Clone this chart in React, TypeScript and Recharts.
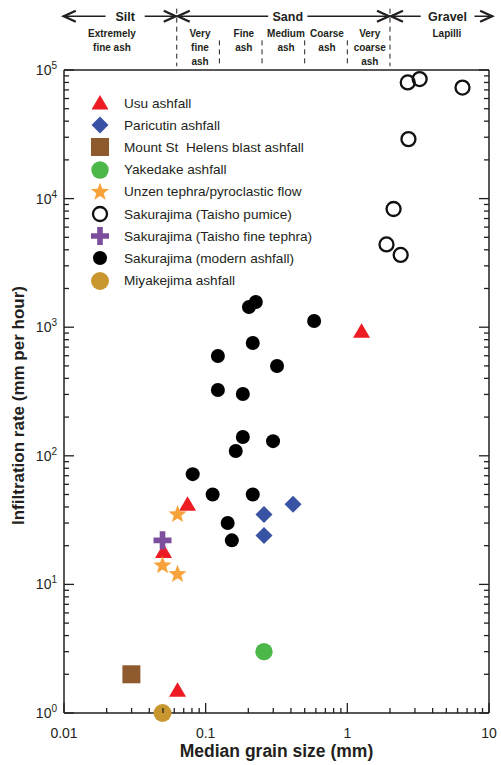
import React from 'react'
import {
  ScatterChart,
  Scatter,
  XAxis,
  YAxis,
  Legend,
  ReferenceLine,
  ReferenceDot,
} from 'recharts'

const FONT = '"Liberation Sans", Arial, Helvetica, sans-serif'
const INK = '#231f20'

// values: x = median grain size (mm), y = infiltration rate (mm/h)
const usu = [
  { x: 1.26, y: 930 },
  { x: 0.0745, y: 42 },
  { x: 0.0504, y: 18 },
  { x: 0.0633, y: 1.5 },
]
const paricutin = [
  { x: 0.258, y: 35 },
  { x: 0.414, y: 42 },
  { x: 0.258, y: 24 },
]
const stHelens = [{ x: 0.0299, y: 2.0 }]
const yakedake = [{ x: 0.258, y: 3.0 }]
const unzen = [
  { x: 0.0633, y: 35 },
  { x: 0.0496, y: 14 },
  { x: 0.0633, y: 12 },
]
const taishoPumice = [
  { x: 2.67, y: 80000 },
  { x: 3.24, y: 85000 },
  { x: 6.5, y: 73000 },
  { x: 2.7, y: 29000 },
  { x: 2.12, y: 8300 },
  { x: 1.89, y: 4400 },
  { x: 2.38, y: 3650 },
]
const taishoFine = [{ x: 0.0496, y: 22 }]
const modern = [
  { x: 0.226, y: 1570 },
  { x: 0.202, y: 1435 },
  { x: 0.583, y: 1117 },
  { x: 0.215, y: 754 },
  { x: 0.122, y: 597 },
  { x: 0.319, y: 499 },
  { x: 0.122, y: 325 },
  { x: 0.183, y: 302 },
  { x: 0.183, y: 140 },
  { x: 0.299, y: 130 },
  { x: 0.163, y: 109 },
  { x: 0.081, y: 72 },
  { x: 0.112, y: 50 },
  { x: 0.215, y: 50 },
  { x: 0.143, y: 30 },
  { x: 0.153, y: 22 },
]
const miyakejima = [{ x: 0.0496, y: 1.0 }]

const xTicks = [
  0.01, 0.02, 0.03, 0.04, 0.05, 0.06, 0.07, 0.08, 0.09,
  0.1, 0.2, 0.3, 0.4, 0.5, 0.6, 0.7, 0.8, 0.9,
  1, 2, 3, 4, 5, 6, 7, 8, 9, 10,
]
const yTicks = [
  1, 2, 3, 4, 5, 6, 7, 8, 9,
  10, 20, 30, 40, 50, 60, 70, 80, 90,
  100, 200, 300, 400, 500, 600, 700, 800, 900,
  1000, 2000, 3000, 4000, 5000, 6000, 7000, 8000, 9000,
  10000, 20000, 30000, 40000, 50000, 60000, 70000, 80000, 90000,
  100000,
]

// grain size classes shown above the plot
const mainBounds = [0.0625, 2]
const subBounds = [0.125, 0.25, 0.5, 1]
const classes = [
  { name: 'Silt', from: 0.0098, to: 0.0625, at: 0.027 },
  { name: 'Sand', from: 0.0625, to: 2, at: 0.38 },
  { name: 'Gravel', from: 2, to: 10.7, at: 5.1 },
]
const ashTypes = [
  { lines: ['Extremely', 'fine ash'], at: 0.0218 },
  { lines: ['Very', 'fine', 'ash'], at: 0.0912 },
  { lines: ['Fine', 'ash'], at: 0.186 },
  { lines: ['Medium', 'ash'], at: 0.369 },
  { lines: ['Coarse', 'ash'], at: 0.718 },
  { lines: ['Very', 'coarse', 'ash'], at: 1.44 },
  { lines: ['Lapilli'], at: 5.05 },
]
// y positions (in data units, above the 1e5 top) for the header rows
const ARROW_Y = 2.62e5
const DASH_TOP = 3.0e5
const SUB_DASH_TOP = 1.7e5
const DASH_BOTTOM = 1.07e5
const LABEL_Y = 1.8e5

const series = [
  { name: 'Usu ashfall', data: usu, kind: 'triangle', color: '#ed1c24' },
  { name: 'Paricutin ashfall', data: paricutin, kind: 'diamond', color: '#3953a4' },
  { name: 'Mount St  Helens blast ashfall', data: stHelens, kind: 'square', color: '#8f5b2e' },
  { name: 'Yakedake ashfall', data: yakedake, kind: 'dot', color: '#4cb849', r: 8.7 },
  { name: 'Unzen tephra/pyroclastic flow', data: unzen, kind: 'star', color: '#f7a23b' },
  { name: 'Sakurajima (Taisho pumice)', data: taishoPumice, kind: 'ring', color: '#111' },
  { name: 'Sakurajima (Taisho fine tephra)', data: taishoFine, kind: 'plus', color: '#7e4e9e' },
  { name: 'Sakurajima (modern ashfall)', data: modern, kind: 'dot', color: '#000', r: 7 },
  { name: 'Miyakejima ashfall', data: miyakejima, kind: 'dot', color: '#c9972f', r: 9 },
]

function starPoints(cx: number, cy: number, ro: number, ri: number) {
  const pts: string[] = []
  for (let i = 0; i < 10; i++) {
    const r = i % 2 === 0 ? ro : ri
    const a = -Math.PI / 2 + (i * Math.PI) / 5
    pts.push(`${cx + r * Math.cos(a)},${cy + r * Math.sin(a)}`)
  }
  return pts.join(' ')
}

function Marker({ kind, color, r, cx, cy }: any) {
  switch (kind) {
    case 'triangle':
      return <polygon points={`${cx},${cy - 8} ${cx - 8.5},${cy + 6.5} ${cx + 8.5},${cy + 6.5}`} fill={color} />
    case 'diamond':
      return <polygon points={`${cx},${cy - 8.5} ${cx + 8.5},${cy} ${cx},${cy + 8.5} ${cx - 8.5},${cy}`} fill={color} />
    case 'square':
      return <rect x={cx - 9} y={cy - 9} width={18} height={18} fill={color} />
    case 'star':
      return <polygon points={starPoints(cx, cy, 9.5, 4)} fill={color} />
    case 'ring':
      return <circle cx={cx} cy={cy} r={7} fill="none" stroke={color} strokeWidth={2.3} />
    case 'plus':
      return (
        <path
          d={`M${cx - 2.8},${cy - 9} h5.6 v6.2 h6.2 v5.6 h-6.2 v6.2 h-5.6 v-6.2 h-6.2 v-5.6 h6.2 z`}
          fill={color}
        />
      )
    default:
      return <circle cx={cx} cy={cy} r={r ?? 7} fill={color} />
  }
}

const isMajor = (v: number) => Math.abs(Math.log10(v) - Math.round(Math.log10(v))) < 1e-6

function BottomTick({ x, y, payload }: any) {
  const major = isMajor(payload.value)
  return (
    <g>
      <line x1={x} x2={x} y1={y} y2={y - (major ? 10 : 5)} stroke={INK} strokeWidth={1.3} />
      {major && (
        <text x={x} y={y + 25} textAnchor="middle" fontSize={14} fill={INK} fontFamily={FONT}>
          {payload.value}
        </text>
      )}
    </g>
  )
}

function TopTick({ x, y, payload }: any) {
  const major = isMajor(payload.value)
  return <line x1={x} x2={x} y1={y} y2={y + (major ? 10 : 5)} stroke={INK} strokeWidth={1.3} />
}

function LeftTick({ x, y, payload }: any) {
  const major = isMajor(payload.value)
  const exp = Math.round(Math.log10(payload.value))
  return (
    <g>
      <line x1={x} x2={x + (major ? 10 : 5)} y1={y} y2={y} stroke={INK} strokeWidth={1.3} />
      {major && (
        <text x={x - 7} y={y + 5} textAnchor="end" fontSize={14} fill={INK} fontFamily={FONT}>
          10
          <tspan dy={-6} fontSize={10}>{exp}</tspan>
        </text>
      )}
    </g>
  )
}

function RightTick({ x, y, payload }: any) {
  const major = isMajor(payload.value)
  return <line x1={x} x2={x - (major ? 10 : 5)} y1={y} y2={y} stroke={INK} strokeWidth={1.3} />
}

function XTitle({ viewBox }: any) {
  return (
    <text
      x={viewBox.x + viewBox.width / 2}
      y={viewBox.y + 44}
      textAnchor="middle"
      fontSize={17.5}
      fontWeight="bold"
      fill={INK}
      fontFamily={FONT}
    >
      Median grain size (mm)
    </text>
  )
}

function YTitle({ viewBox }: any) {
  const cx = viewBox.x + 24
  const cy = viewBox.y + viewBox.height / 2 + 14
  return (
    <text
      x={cx}
      y={cy}
      transform={`rotate(-90 ${cx} ${cy})`}
      textAnchor="middle"
      fontSize={17}
      fontWeight="bold"
      fill={INK}
      fontFamily={FONT}
    >
      Infiltration rate (mm per hour)
    </text>
  )
}

function ClassArrow({ x1, x2, y1, cls }: any) {
  const t = (Math.log10(cls.at) - Math.log10(cls.from)) / (Math.log10(cls.to) - Math.log10(cls.from))
  const lx = x1 + (x2 - x1) * t
  const w = cls.name.length * 7.3 + 10
  return (
    <g>
      <line x1={x1} x2={x2} y1={y1} y2={y1} stroke={INK} strokeWidth={1.5} />
      <path d={`M${x1 + 13},${y1 - 5.5} L${x1 + 1},${y1} L${x1 + 13},${y1 + 5.5}`} fill="none" stroke={INK} strokeWidth={2.3} />
      <path d={`M${x2 - 13},${y1 - 5.5} L${x2 - 1},${y1} L${x2 - 13},${y1 + 5.5}`} fill="none" stroke={INK} strokeWidth={2.3} />
      <rect x={lx - w / 2} y={y1 - 8} width={w} height={16} fill="#fff" />
      <text x={lx} y={y1 + 4.5} textAnchor="middle" fontSize={12.5} fontWeight="bold" fill={INK} fontFamily={FONT}>
        {cls.name}
      </text>
    </g>
  )
}

function AshLabel({ cx, cy, lines }: any) {
  return (
    <text textAnchor="middle" fontSize={10} fontWeight="bold" fill={INK} fontFamily={FONT}>
      {lines.map((l: string, i: number) => (
        <tspan key={i} x={cx} y={cy + i * 13.8}>
          {l}
        </tspan>
      ))}
    </text>
  )
}

function LegendBox() {
  return (
    <div style={{ fontFamily: FONT, fontSize: 13.6, color: INK }}>
      {series.map(s => (
        <div key={s.name} style={{ display: 'flex', alignItems: 'center', height: 22.2 }}>
          <svg width={20} height={20} style={{ overflow: 'visible' }}>
            <Marker kind={s.kind} color={s.color} r={s.r} cx={10} cy={10} />
          </svg>
          <span style={{ marginLeft: 14, whiteSpace: 'pre' }}>{s.name}</span>
        </div>
      ))}
    </div>
  )
}

export default function App() {
  const axisLine = { stroke: INK, strokeWidth: 1.5 }
  return (
    <div style={{ position: 'absolute', left: 0, top: 0, background: '#fff' }}>
      <ScatterChart width={501} height={765} margin={{ top: 69, right: 11, bottom: 0, left: 0 }}>
        <XAxis
          dataKey="x"
          type="number"
          scale="log"
          domain={[0.01, 10]}
          ticks={xTicks}
          interval={0}
          tick={BottomTick}
          tickLine={false}
          tickSize={0}
          tickMargin={0}
          height={52}
          axisLine={axisLine}
          label={XTitle}
        />
        <XAxis
          xAxisId="top"
          orientation="top"
          type="number"
          scale="log"
          domain={[0.01, 10]}
          allowDataOverflow
          ticks={xTicks}
          interval={0}
          tick={TopTick}
          tickLine={false}
          tickSize={0}
          tickMargin={0}
          height={1}
          axisLine={axisLine}
        />
        <YAxis
          dataKey="y"
          type="number"
          scale="log"
          domain={[1, 100000]}
          ticks={yTicks}
          interval={0}
          tick={LeftTick}
          tickLine={false}
          tickSize={0}
          tickMargin={0}
          width={64}
          axisLine={axisLine}
          label={YTitle}
        />
        <YAxis
          yAxisId="right"
          orientation="right"
          type="number"
          scale="log"
          domain={[1, 100000]}
          allowDataOverflow
          ticks={yTicks}
          interval={0}
          tick={RightTick}
          tickLine={false}
          tickSize={0}
          tickMargin={0}
          width={1}
          axisLine={axisLine}
        />

        {mainBounds.map(b => (
          <ReferenceLine
            key={'m' + b}
            ifOverflow="visible"
            segment={[{ x: b, y: DASH_TOP }, { x: b, y: DASH_BOTTOM }]}
            stroke={INK}
            strokeWidth={1}
            strokeDasharray="5 4"
          />
        ))}
        {subBounds.map(b => (
          <ReferenceLine
            key={'s' + b}
            ifOverflow="visible"
            segment={[{ x: b, y: SUB_DASH_TOP }, { x: b, y: DASH_BOTTOM }]}
            stroke={INK}
            strokeWidth={1}
            strokeDasharray="5 4"
          />
        ))}
        {classes.map(c => (
          <ReferenceLine
            key={c.name}
            ifOverflow="visible"
            segment={[{ x: c.from, y: ARROW_Y }, { x: c.to, y: ARROW_Y }]}
            shape={(p: any) => <ClassArrow {...p} cls={c} />}
          />
        ))}
        {ashTypes.map(a => (
          <ReferenceDot
            key={a.lines.join(' ')}
            ifOverflow="visible"
            x={a.at}
            y={LABEL_Y}
            shape={(p: any) => <AshLabel cx={p.cx} cy={p.cy} lines={a.lines} />}
          />
        ))}

        {series.map(s => (
          <Scatter
            key={s.name}
            name={s.name}
            data={s.data}
            isAnimationActive={false}
            shape={(p: any) => <Marker kind={s.kind} color={s.color} r={s.r} cx={p.cx} cy={p.cy} />}
          />
        ))}

        <Legend
          content={LegendBox}
          layout="vertical"
          align="center"
          verticalAlign="middle"
          wrapperStyle={{ left: 90, top: 92, width: 'auto' }}
        />
      </ScatterChart>
    </div>
  )
}
